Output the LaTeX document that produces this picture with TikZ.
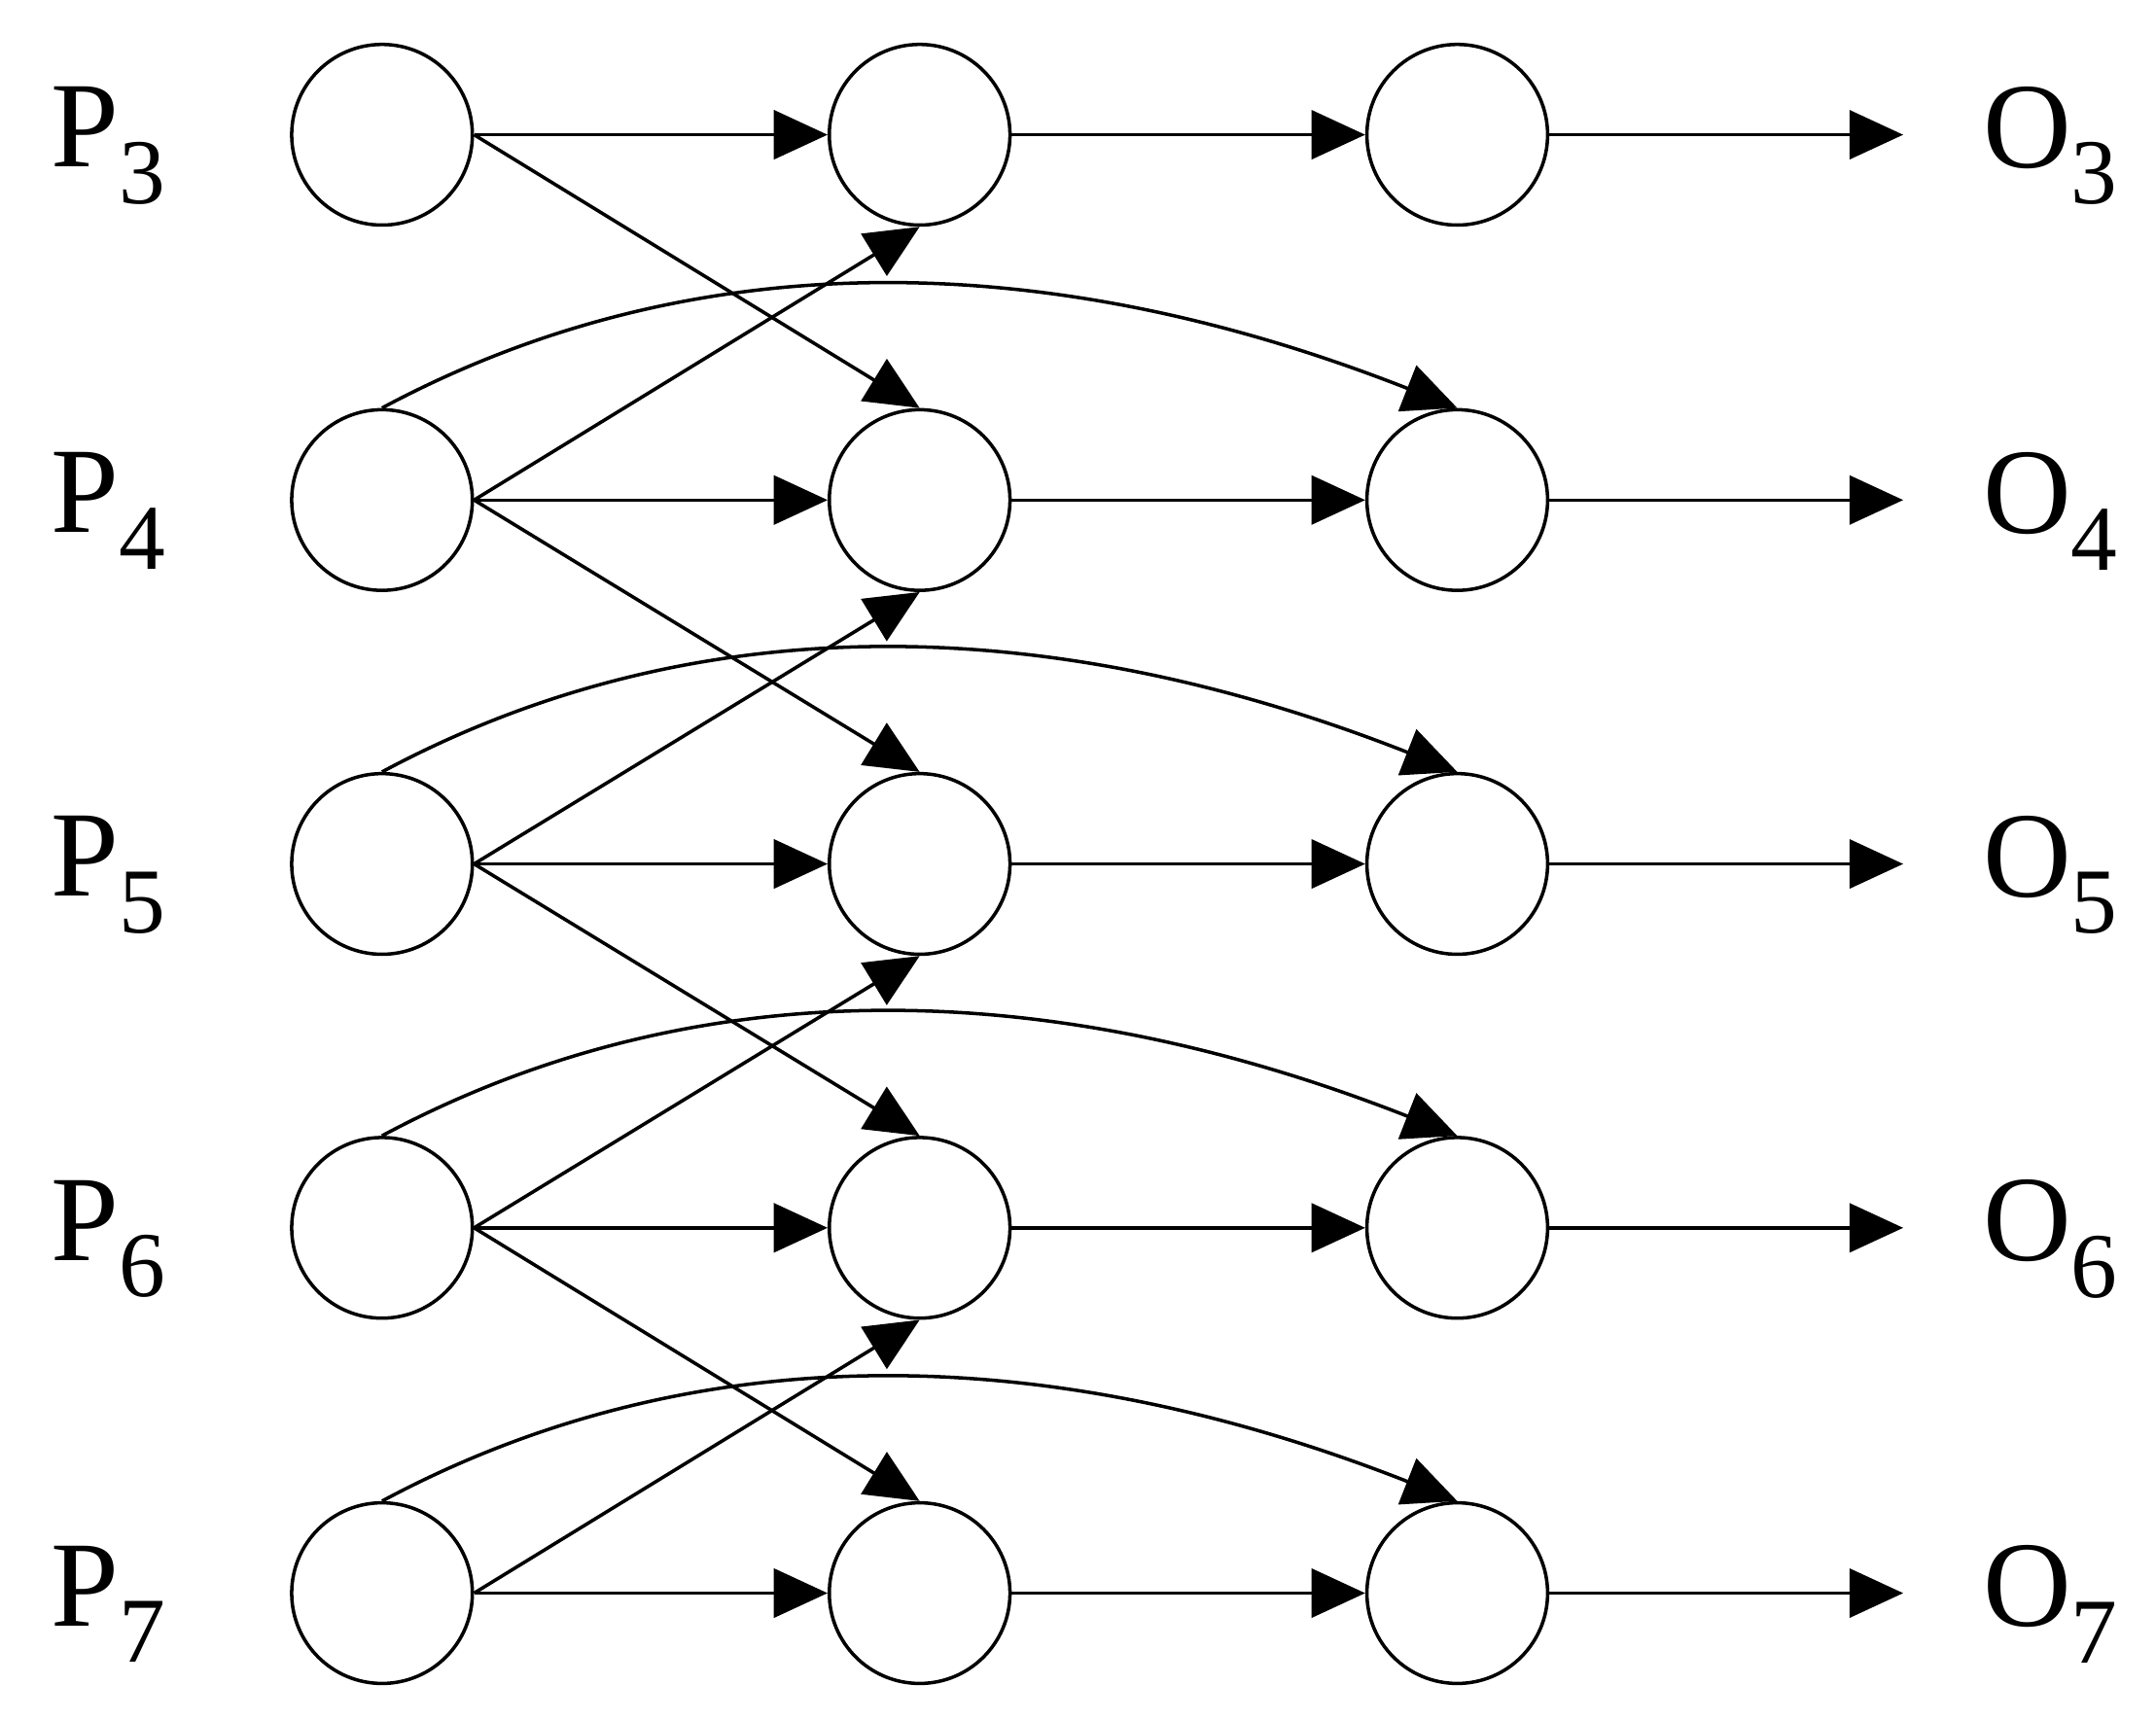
\documentclass[tikz,border=0pt]{standalone}
\usepackage{fontspec}
\setmainfont{Liberation Serif}
\usetikzlibrary{arrows.meta}
\newcommand{\lbl}[2]{#1\raisebox{-0.3em}{\fontsize{19}{22}\selectfont #2}}
\begin{document}
\begin{tikzpicture}[x=0.01cm,y=-0.01cm,
  st/.style={circle,draw,line width=0.7pt,minimum size=1.3cm,inner sep=0pt},
  lab/.style={font=\fontsize{25}{28}\selectfont},
  ar/.style={line width=0.7pt,-{Triangle[length=11pt,width=10pt]}}]
\useasboundingbox (0,0) rectangle (1552,1238);
\foreach \r/\y in {3/97,4/360,5/622,6/884,7/1147}{
  \node[st] (a\r) at (275,\y) {};
  \node[st] (b\r) at (662,\y) {};
  \node[st] (c\r) at (1049,\y) {};
  \node[lab] (p\r) at (78,\y+8) {\lbl{P}{\r}};
  \node[lab] (o\r) at (1476,\y+8) {\lbl{O}{\r}};
  \coordinate (e\r) at (1370,\y);
  \draw[ar] (a\r) -- (b\r);
  \draw[ar] (b\r) -- (c\r);
  \draw[ar] (c\r) -- (e\r);
}
\foreach \r/\s in {3/4,4/5,5/6,6/7}{
  \draw[ar] (a\r.east) -- (b\s.north);
  \draw[ar] (a\s.east) -- (b\r.south);
  \draw[ar] (a\s.north) .. controls +(220,-118) and +(-300,-118) .. (c\s.north);
}
\end{tikzpicture}
\end{document}
